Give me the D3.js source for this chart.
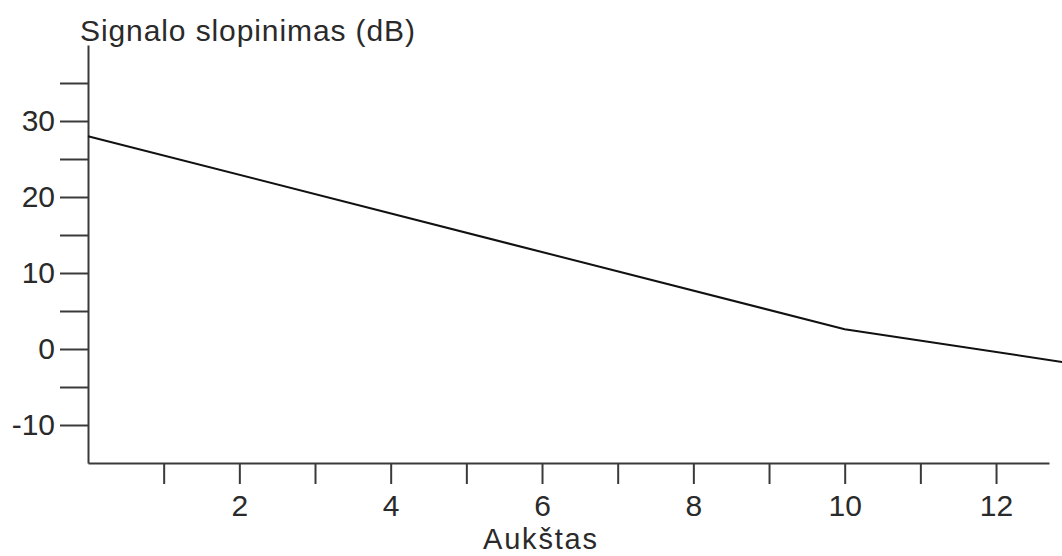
<!DOCTYPE html>
<html>
<head>
<meta charset="utf-8">
<script src="https://cdn.jsdelivr.net/npm/d3@7"></script>
<style>
    body { margin: 0; background: #fff; }
    text { font-family: "Liberation Sans", Arial, sans-serif; fill: #2a2a2a; }
    .axis path, .axis line { stroke: #3a3a3a; stroke-width: 2; }
</style>
</head>
<body>
<div id="chart"></div>
<script>
// floor number vs signal attenuation
const floors = [0, 10, 12.9];
const attenuation = [28, 2.6, -1.75];

const xTicks = [1, 2, 3, 4, 5, 6, 7, 8, 9, 10, 11, 12];
const xLabels = [2, 4, 6, 8, 10, 12];
const yTicks = [-10, -5, 0, 5, 10, 15, 20, 25, 30, 35];
const yLabels = [-10, 0, 10, 20, 30];

const yTitle = "Signalo slopinimas (dB)";
const xTitle = "Aukštas";

const width = 1062, height = 556;

let svg = d3.select("#chart").append("svg")
    .attr("width", width)
    .attr("height", height);

// scales
let x = d3.scaleLinear().domain([0, 12.7]).range([88, 1049]);
let y = d3.scaleLinear().domain([-15, 40]).range([463, 45]);

// y axis
let yAxis = d3.axisLeft(y)
    .tickValues(yTicks)
    .tickSize(28)
    .tickSizeOuter(0)
    .tickPadding(5)
    .tickFormat(d => yLabels.includes(d) ? d : "");

svg.append("g")
    .attr("class", "axis y-axis")
    .attr("transform", `translate(${x(0)},0)`)
    .call(yAxis)
    .call(g => g.selectAll("text").style("font-size", "30px").attr("fill", null));

// x axis
let xAxis = d3.axisBottom(x)
    .tickValues(xTicks)
    .tickSize(21)
    .tickSizeOuter(0)
    .tickPadding(11)
    .tickFormat(d => xLabels.includes(d) ? d : "");

svg.append("g")
    .attr("class", "axis x-axis")
    .attr("transform", `translate(0,${y(-15)})`)
    .call(xAxis)
    .call(g => g.selectAll("text").style("font-size", "30px").attr("fill", null));

// line
let data = floors.map((f, i) => ({ floor: f, value: attenuation[i] }));

let line = d3.line()
    .x(d => x(d.floor))
    .y(d => y(d.value));

svg.append("path")
    .datum(data)
    .attr("d", line)
    .attr("fill", "none")
    .attr("stroke", "#111")
    .attr("stroke-width", 2);

// titles
svg.append("text")
    .attr("x", 80)
    .attr("y", 41)
    .attr("textLength", 335)
    .style("font-size", "30px")
    .text(yTitle);

svg.append("text")
    .attr("x", 483)
    .attr("y", 549)
    .attr("textLength", 114)
    .style("font-size", "29px")
    .text(xTitle);
</script>
</body>
</html>
